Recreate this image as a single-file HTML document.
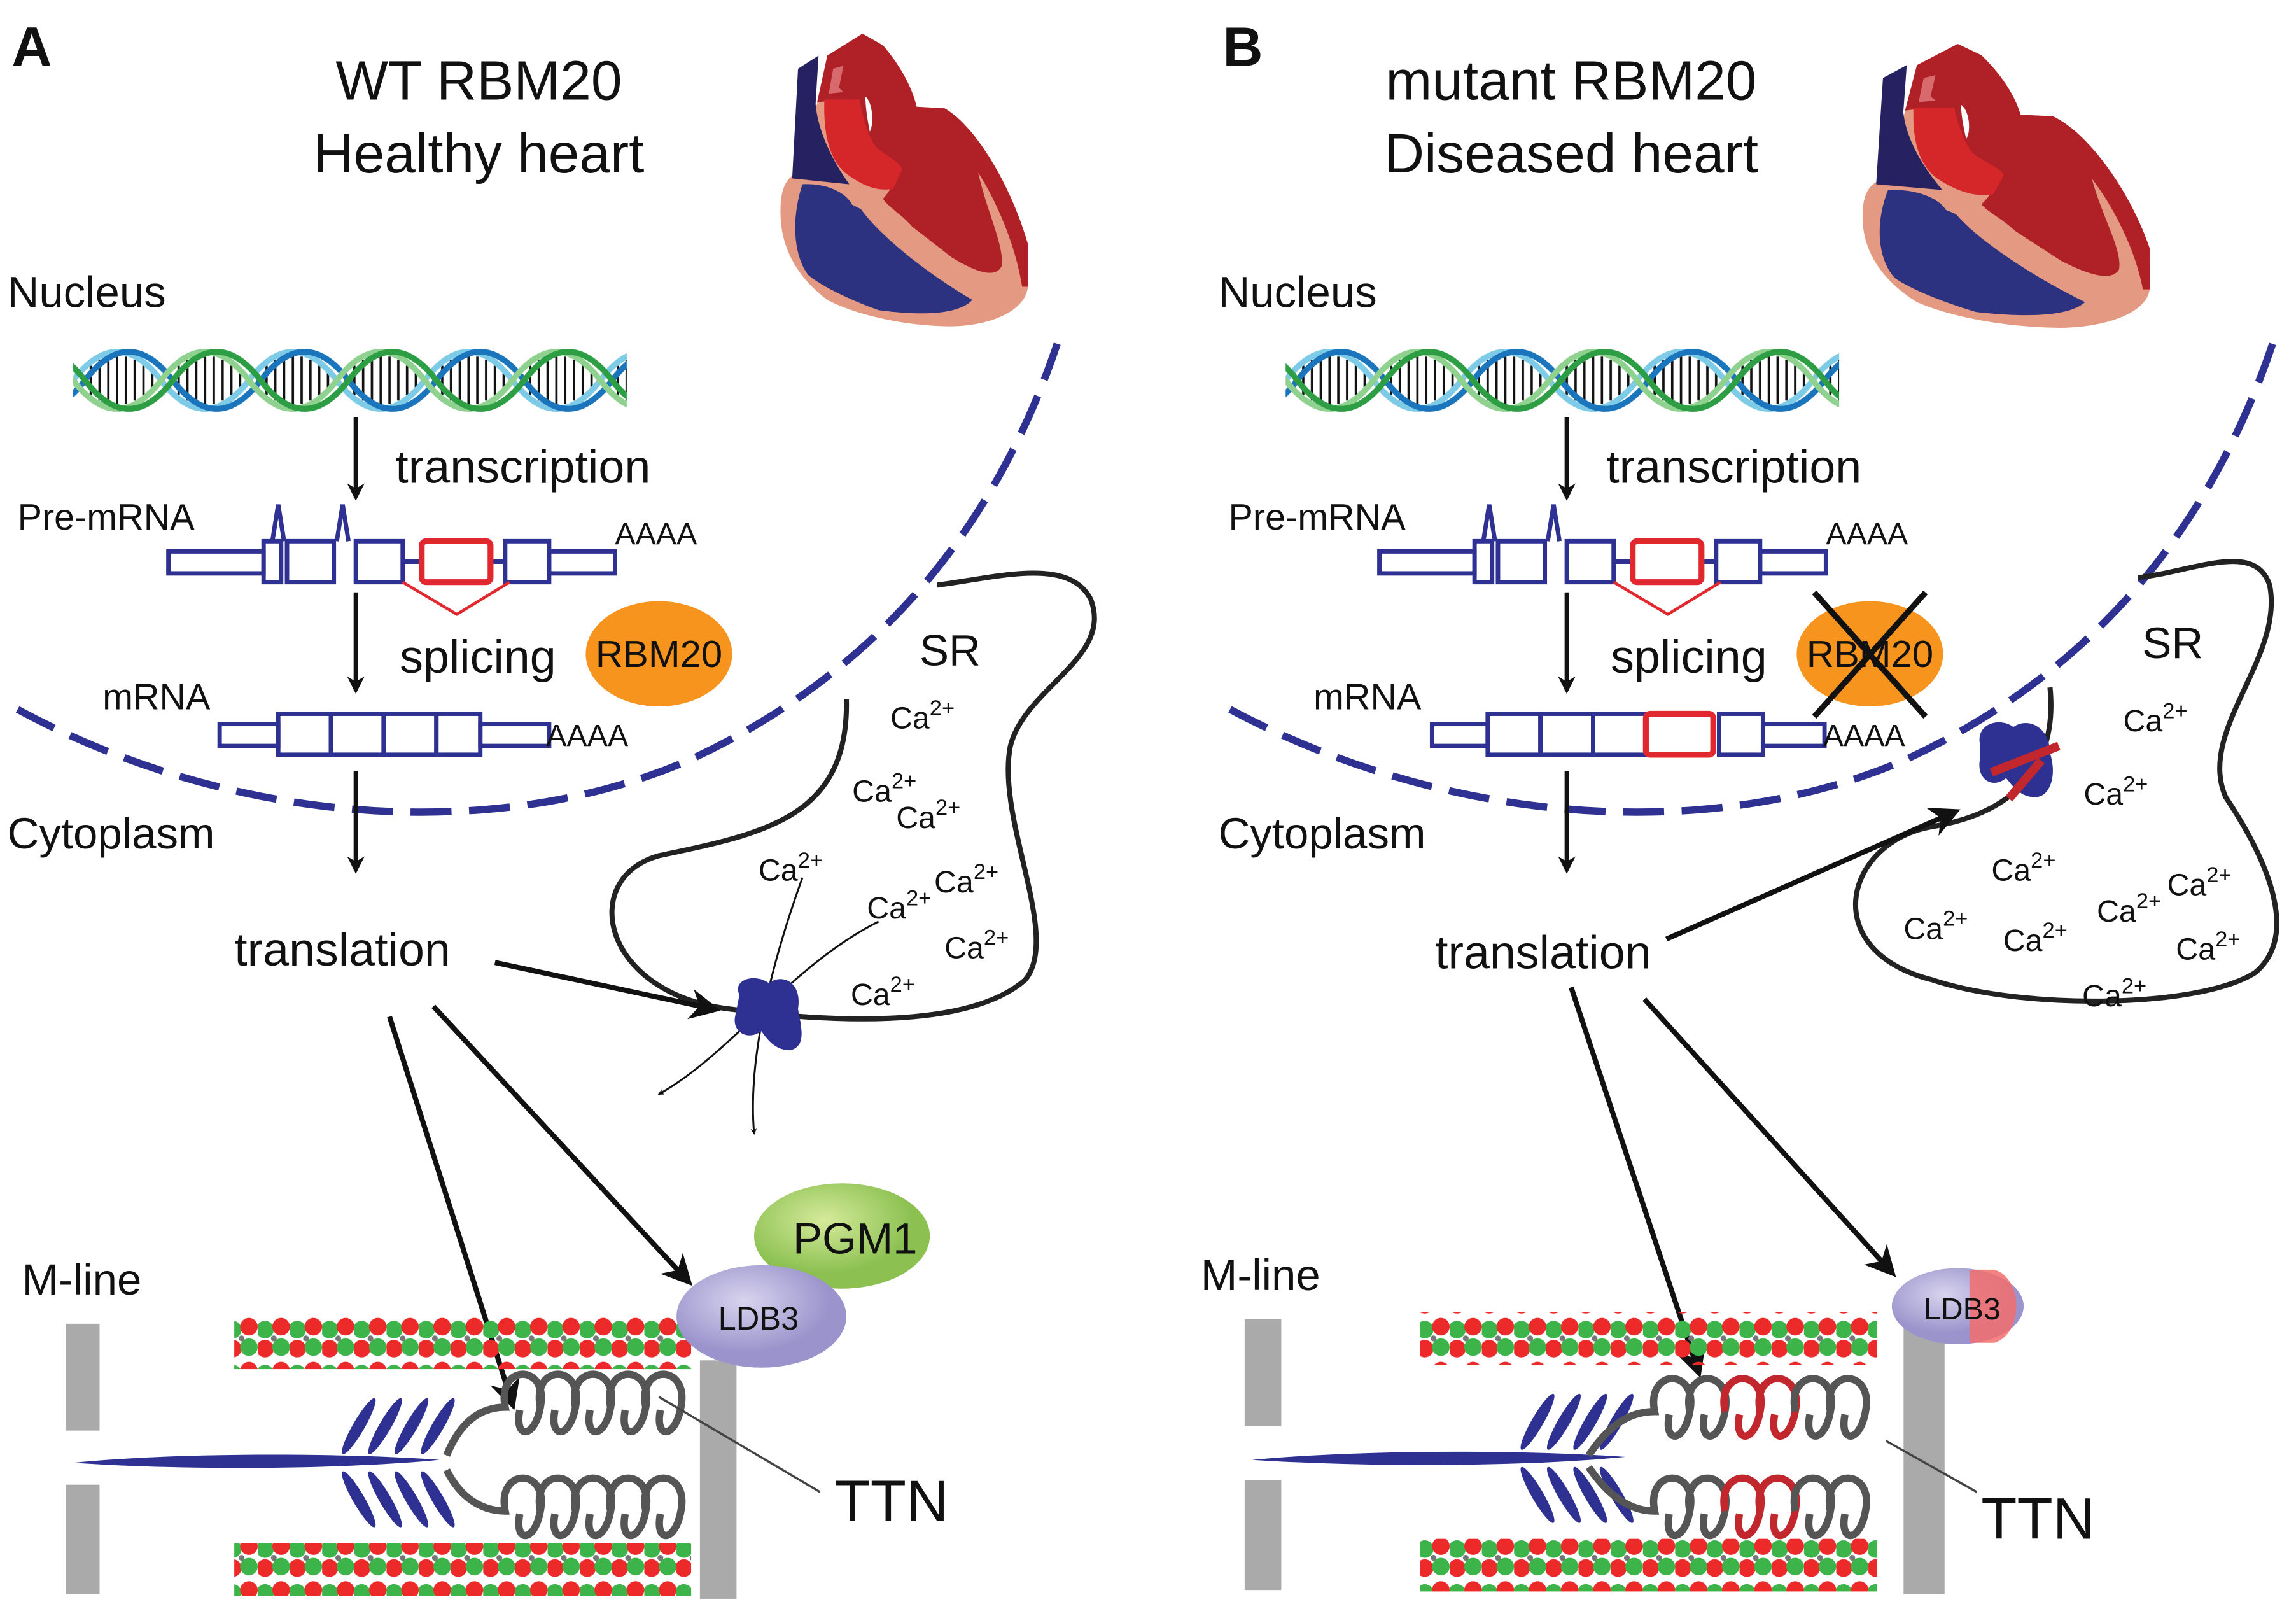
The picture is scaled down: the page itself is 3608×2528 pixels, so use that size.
<!DOCTYPE html>
<html><head><meta charset="utf-8"><style>
html,body{margin:0;padding:0;background:#fff}
svg{display:block}
text{font-family:"Liberation Sans",Arial,sans-serif;fill:#111}
</style></head><body>
<svg width="3608" height="2528" viewBox="0 0 1568 1100" preserveAspectRatio="none" xmlns="http://www.w3.org/2000/svg">
<defs>
<marker id="ah" viewBox="0 0 10 10" refX="8" refY="5" markerWidth="4" markerHeight="4" orient="auto"><path d="M0,0 L10,5 L0,10 L3,5z" fill="#111"/></marker>
<marker id="ahs" viewBox="0 0 10 10" refX="8" refY="5" markerWidth="6" markerHeight="6" orient="auto"><path d="M0,0 L10,5 L0,10 L3,5z" fill="#111"/></marker>
<marker id="ahb" viewBox="0 0 10 10" refX="8" refY="5" markerWidth="3.2" markerHeight="3.2" orient="auto"><path d="M0,0 L10,5 L0,10 L3,5z" fill="#111"/></marker>
<radialGradient id="pg" cx="40%" cy="35%"><stop offset="0" stop-color="#d5ea9a"/><stop offset="1" stop-color="#8cc152"/></radialGradient>
<radialGradient id="lg" cx="40%" cy="35%"><stop offset="0" stop-color="#d8d4ee"/><stop offset="1" stop-color="#9b94cc"/></radialGradient>
<pattern id="actin" patternUnits="userSpaceOnUse" x="0" y="0" width="22" height="30">
<circle cx="5" cy="9" r="6" fill="#3cb44a"/><circle cx="16" cy="7" r="6" fill="#ec2a2a"/>
<circle cx="5" cy="22" r="6" fill="#ec2a2a"/><circle cx="16" cy="21" r="6" fill="#3cb44a"/>
<circle cx="11" cy="15" r="2" fill="#777"/>
</pattern>
<pattern id="dnap" patternUnits="userSpaceOnUse" x="50" y="238" width="120" height="44">
<path d="M6,16.7 L6,27.3 M12,12 L12,32 M18,8.2 L18,35.8 M24,5.8 L24,38.2 M30,5 L30,39 M36,5.8 L36,38.2 M42,8.2 L42,35.8 M48,12 L48,32 M54,16.7 L54,27.3 M66,16.7 L66,27.3 M72,12 L72,32 M78,8.2 L78,35.8 M84,5.8 L84,38.2 M90,5 L90,39 M96,5.8 L96,38.2 M102,8.2 L102,35.8 M108,12 L108,32 M114,16.7 L114,27.3" stroke="#111" stroke-width="1.6"/>
<path d="M-120,22 C-100,-4 -80,-4 -60,22 S-20,48 0,22 S40,-4 60,22 S100,48 120,22 S160,-4 180,22" fill="none" stroke="#7ecbe8" stroke-width="4"/>
<path d="M-112,22 C-92,-4 -72,-4 -52,22 S-12,48 8,22 S48,-4 68,22 S108,48 128,22" fill="none" stroke="#1b75bc" stroke-width="4"/>
<path d="M-120,22 C-100,48 -80,48 -60,22 S-20,-4 0,22 S40,48 60,22 S100,-4 120,22 S160,48 180,22" fill="none" stroke="#8fd18f" stroke-width="4"/>
<path d="M-112,22 C-92,48 -72,48 -52,22 S-12,-4 8,22 S48,48 68,22 S108,-4 128,22" fill="none" stroke="#2e9e44" stroke-width="4"/>
</pattern>
<g id="heart">
<path d="M565,38 L589,23 L603,31 C615,45 623,60 626,73 L645,74 C665,85 690,125 702,167 L702,196 C700,215 670,224 645,223 C610,222 580,213 565,205 C545,190 533,170 533,145 C533,130 536,122 545,118 L558,71 Z" fill="#e49a82"/>
<path d="M565,38 L589,23 L603,31 C615,45 623,60 626,73 L645,74 C665,85 690,125 702,167 L702,196 L698,196 C694,170 682,140 668,118 C674,145 686,168 684,182 C680,190 668,187 650,176 L623,155 C615,146 606,141 603,136 C610,128 614,120 602,114 C592,108 587,92 585,80 C580,70 570,68 558,70 Z" fill="#b02027"/>
<path d="M563,68 L587,68 C590,85 595,98 600,102 C608,108 616,112 616,116 L610,129 C600,131 590,128 577,118 C568,110 562,95 563,68Z" fill="#d52629"/>
<path d="M591,66 C596,70 597,85 594,90 C592,80 591,72 591,66Z" fill="#fff"/>
<path d="M569,47 L576,45 L573,60 L576,63 L566,64Z" fill="#d86a6e"/>
<path d="M545,47 L559,38 L557,71 C558,85 565,105 580,126 L541,122 Z" fill="#262262"/>
<path d="M548,126 C565,125 578,132 582,140 L588,143 C600,160 630,185 664,205 C655,215 630,216 600,212 C580,205 560,195 552,188 C542,175 540,150 548,126Z" fill="#2c3280"/>
</g>
</defs>

<!-- Panel A -->
<text x="8" y="45" font-size="38" font-weight="bold">A</text>
<text x="327" y="68" font-size="38" text-anchor="middle">WT RBM20</text>
<text x="327" y="118" font-size="38" text-anchor="middle">Healthy heart</text>
<use href="#heart"/>
<text x="5" y="210" font-size="30">Nucleus</text>
<rect x="50" y="238" width="378" height="44" fill="url(#dnap)"/>
<line x1="243" y1="285" x2="243" y2="340" stroke="#111" stroke-width="3" marker-end="url(#ah)"/>
<text x="270" y="330" font-size="32">transcription</text>
<text x="12" y="362" font-size="25">Pre-mRNA</text>
<g fill="none" stroke="#2e3192" stroke-width="3">
<rect x="115" y="377" width="65" height="15"/><rect x="180" y="370" width="12" height="28"/><rect x="196" y="370" width="32" height="28"/><rect x="243" y="370" width="32" height="28"/>
<line x1="275" y1="384" x2="288" y2="384"/><line x1="335" y1="384" x2="345" y2="384"/><rect x="345" y="370" width="30" height="28"/><rect x="375" y="377" width="45" height="15"/>
<path d="M186,370 L190,345 L194,370 M230,370 L234,345 L238,370"/>
</g>
<rect x="288" y="370" width="47" height="28" fill="none" stroke="#e0282e" stroke-width="4" rx="3"/>
<path d="M275,398 L312,420 L348,398" fill="none" stroke="#e0282e" stroke-width="2"/>
<text x="420" y="372" font-size="21">AAAA</text>
<line x1="243" y1="405" x2="243" y2="472" stroke="#111" stroke-width="3" marker-end="url(#ah)"/>
<text x="273" y="460" font-size="32">splicing</text>
<ellipse cx="450" cy="447" rx="50" ry="36" fill="#f7941d"/>
<text x="450" y="456" font-size="26" text-anchor="middle">RBM20</text>
<text x="70" y="485" font-size="25">mRNA</text>
<g fill="none" stroke="#2e3192" stroke-width="3">
<rect x="150" y="495" width="40" height="15"/><rect x="190" y="488" width="36" height="28"/><rect x="226" y="488" width="36" height="28"/><rect x="262" y="488" width="36" height="28"/><rect x="298" y="488" width="30" height="28"/><rect x="328" y="495" width="47" height="15"/>
</g>
<text x="373" y="510" font-size="21">AAAA</text>
<path d="M12,485 C150,560 330,580 470,520 C600,460 680,360 722,235" fill="none" stroke="#2e3192" stroke-width="5" stroke-dasharray="28 12"/>
<text x="5" y="580" font-size="30">Cytoplasm</text>
<line x1="243" y1="527" x2="243" y2="595" stroke="#111" stroke-width="3" marker-end="url(#ah)"/>
<text x="160" y="660" font-size="32">translation</text>
<path d="M578,478 C580,560 520,570 450,585 C395,600 410,680 500,690 C560,698 660,705 700,670 C725,640 680,560 690,510 C700,470 760,450 745,410 C730,380 680,395 640,400" fill="none" stroke="#222" stroke-width="3.5"/>
<text x="628" y="455" font-size="30">SR</text>
<g font-size="21"><text x="608" y="498">Ca<tspan font-size="15" dy="-9">2+</tspan></text>
<text x="582" y="548">Ca<tspan font-size="15" dy="-9">2+</tspan></text><text x="612" y="566">Ca<tspan font-size="15" dy="-9">2+</tspan></text>
<text x="518" y="602">Ca<tspan font-size="15" dy="-9">2+</tspan></text>
<text x="592" y="628">Ca<tspan font-size="15" dy="-9">2+</tspan></text><text x="638" y="610">Ca<tspan font-size="15" dy="-9">2+</tspan></text>
<text x="645" y="655">Ca<tspan font-size="15" dy="-9">2+</tspan></text><text x="581" y="687">Ca<tspan font-size="15" dy="-9">2+</tspan></text></g>
<path d="M548,600 C530,650 510,720 515,775" fill="none" stroke="#111" stroke-width="1.3" marker-end="url(#ahb)"/>
<path d="M600,630 C540,660 500,720 450,748" fill="none" stroke="#111" stroke-width="1.3" marker-end="url(#ahb)"/>
<path d="M505,680 C500,670 515,665 525,672 C535,665 548,672 545,690 C548,705 550,715 540,718 C530,718 525,712 520,705 C510,712 500,705 502,695z" fill="#2e3192"/>
<line x1="338" y1="658" x2="488" y2="690" stroke="#111" stroke-width="3.5" marker-end="url(#ahs)"/>
<line x1="296" y1="688" x2="470" y2="876" stroke="#111" stroke-width="3.5" marker-end="url(#ahs)"/>
<line x1="266" y1="695" x2="350" y2="960" stroke="#111" stroke-width="3.5" marker-end="url(#ahs)"/>
<text x="15" y="885" font-size="30">M-line</text>
<rect x="45" y="905" width="23" height="73" fill="#aaa"/><rect x="45" y="1015" width="23" height="75" fill="#aaa"/>
<rect x="160" y="900" width="312" height="36" fill="url(#actin)"/>
<rect x="160" y="1055" width="312" height="36" fill="url(#actin)"/>
<rect x="478" y="930" width="25" height="163" fill="#aaa"/>
<path d="M50,1000 C120,993 230,993 300,998 C230,1005 120,1005 50,1000z" fill="#2e3192"/>
<g fill="#2e3192">
<ellipse cx="245" cy="975" rx="4" ry="22" transform="rotate(30 245 975)"/><ellipse cx="263" cy="975" rx="4" ry="22" transform="rotate(30 263 975)"/><ellipse cx="281" cy="975" rx="4" ry="22" transform="rotate(30 281 975)"/><ellipse cx="299" cy="975" rx="4" ry="22" transform="rotate(30 299 975)"/>
<ellipse cx="245" cy="1025" rx="4" ry="22" transform="rotate(-30 245 1025)"/><ellipse cx="263" cy="1025" rx="4" ry="22" transform="rotate(-30 263 1025)"/><ellipse cx="281" cy="1025" rx="4" ry="22" transform="rotate(-30 281 1025)"/><ellipse cx="299" cy="1025" rx="4" ry="22" transform="rotate(-30 299 1025)"/>
</g>
<g fill="none" stroke="#555" stroke-width="5">
<path d="M305,995 C315,970 330,962 345,962 c-6,-30 30,-30 24,0 c-4,22 -18,22 -14,2 m14,-2 c-6,-30 30,-30 24,0 c-4,22 -18,22 -14,2 m14,-2 c-6,-30 30,-30 24,0 c-4,22 -18,22 -14,2 m14,-2 c-6,-30 30,-30 24,0 c-4,22 -18,22 -14,2 m14,-2 c-6,-30 30,-30 24,0 c-4,22 -18,22 -14,2"/>
<path d="M305,1005 C315,1025 330,1033 345,1033 c-6,-30 30,-30 24,0 c-4,22 -18,22 -14,2 m14,-2 c-6,-30 30,-30 24,0 c-4,22 -18,22 -14,2 m14,-2 c-6,-30 30,-30 24,0 c-4,22 -18,22 -14,2 m14,-2 c-6,-30 30,-30 24,0 c-4,22 -18,22 -14,2 m14,-2 c-6,-30 30,-30 24,0 c-4,22 -18,22 -14,2"/>
</g>
<ellipse cx="575" cy="845" rx="60" ry="36" fill="url(#pg)"/>
<text x="584" y="857" font-size="30" text-anchor="middle">PGM1</text>
<ellipse cx="520" cy="900" rx="58" ry="35" fill="url(#lg)"/>
<text x="518" y="909" font-size="22" text-anchor="middle">LDB3</text>
<line x1="450" y1="955" x2="560" y2="1020" stroke="#444" stroke-width="1.5"/>
<text x="570" y="1040" font-size="40">TTN</text>

<!-- Panel B -->
<text x="835" y="45" font-size="38" font-weight="bold">B</text>
<text x="1073" y="68" font-size="38" text-anchor="middle">mutant RBM20</text>
<text x="1073" y="118" font-size="38" text-anchor="middle">Diseased heart</text>
<use href="#heart" transform="translate(1272,30) scale(1.16,0.97) translate(-533,-23)"/>
<text x="832" y="210" font-size="30">Nucleus</text>
<g transform="translate(828,0)"><rect x="50" y="238" width="378" height="44" fill="url(#dnap)"/></g>
<line x1="1070" y1="285" x2="1070" y2="340" stroke="#111" stroke-width="3" marker-end="url(#ah)"/>
<text x="1097" y="330" font-size="32">transcription</text>
<text x="839" y="362" font-size="25">Pre-mRNA</text>
<g transform="translate(827,0)">
<g fill="none" stroke="#2e3192" stroke-width="3">
<rect x="115" y="377" width="65" height="15"/><rect x="180" y="370" width="12" height="28"/><rect x="196" y="370" width="32" height="28"/><rect x="243" y="370" width="32" height="28"/>
<line x1="275" y1="384" x2="288" y2="384"/><line x1="335" y1="384" x2="345" y2="384"/><rect x="345" y="370" width="30" height="28"/><rect x="375" y="377" width="45" height="15"/>
<path d="M186,370 L190,345 L194,370 M230,370 L234,345 L238,370"/>
</g>
<rect x="288" y="370" width="47" height="28" fill="none" stroke="#e0282e" stroke-width="4" rx="3"/>
<path d="M275,398 L312,420 L348,398" fill="none" stroke="#e0282e" stroke-width="2"/>
<text x="420" y="372" font-size="21">AAAA</text>
<line x1="243" y1="405" x2="243" y2="472" stroke="#111" stroke-width="3" marker-end="url(#ah)"/>
<text x="273" y="460" font-size="32">splicing</text>
<ellipse cx="450" cy="447" rx="50" ry="36" fill="#f7941d"/>
<text x="450" y="456" font-size="26" text-anchor="middle">RBM20</text>
<path d="M412,405 L488,490 M488,405 L412,490" stroke="#111" stroke-width="4"/>
</g>
<text x="897" y="485" font-size="25">mRNA</text>
<g fill="none" stroke="#2e3192" stroke-width="3">
<rect x="978" y="495" width="38" height="15"/><rect x="1016" y="488" width="36" height="28"/><rect x="1052" y="488" width="36" height="28"/><rect x="1088" y="488" width="36" height="28"/><rect x="1174" y="488" width="30" height="28"/><rect x="1204" y="495" width="42" height="15"/>
</g>
<rect x="1124" y="488" width="46" height="28" fill="none" stroke="#e0282e" stroke-width="4" rx="3"/>
<text x="1245" y="510" font-size="21">AAAA</text>
<path d="M840,485 C980,560 1160,580 1300,520 C1430,460 1510,360 1552,235" fill="none" stroke="#2e3192" stroke-width="5" stroke-dasharray="28 12"/>
<text x="832" y="580" font-size="30">Cytoplasm</text>
<line x1="1070" y1="527" x2="1070" y2="595" stroke="#111" stroke-width="3" marker-end="url(#ah)"/>
<text x="980" y="662" font-size="32">translation</text>
<path d="M1400,470 C1405,520 1380,555 1320,565 C1260,575 1240,650 1320,670 C1380,690 1500,690 1540,665 C1570,640 1550,590 1520,545 C1500,500 1560,450 1550,400 C1540,370 1500,390 1460,395" fill="none" stroke="#222" stroke-width="3.5"/>
<text x="1463" y="450" font-size="30">SR</text>
<g font-size="21"><text x="1450" y="500">Ca<tspan font-size="15" dy="-9">2+</tspan></text>
<text x="1423" y="550">Ca<tspan font-size="15" dy="-9">2+</tspan></text>
<text x="1360" y="602">Ca<tspan font-size="15" dy="-9">2+</tspan></text>
<text x="1300" y="642">Ca<tspan font-size="15" dy="-9">2+</tspan></text><text x="1368" y="650">Ca<tspan font-size="15" dy="-9">2+</tspan></text>
<text x="1432" y="630">Ca<tspan font-size="15" dy="-9">2+</tspan></text><text x="1480" y="612">Ca<tspan font-size="15" dy="-9">2+</tspan></text>
<text x="1486" y="656">Ca<tspan font-size="15" dy="-9">2+</tspan></text><text x="1422" y="688">Ca<tspan font-size="15" dy="-9">2+</tspan></text></g>
<path d="M1352,508 C1350,495 1365,490 1375,497 C1385,490 1400,497 1400,515 C1405,530 1400,545 1390,545 C1380,545 1375,538 1370,532 C1360,540 1350,532 1352,520z" fill="#2e3192"/>
<path d="M1360,528 L1406,510 M1372,546 L1394,520" stroke="#c1272d" stroke-width="6"/>
<line x1="1138" y1="642" x2="1335" y2="555" stroke="#111" stroke-width="3.5" marker-end="url(#ahs)"/>
<line x1="1123" y1="683" x2="1292" y2="870" stroke="#111" stroke-width="3.5" marker-end="url(#ahs)"/>
<line x1="1073" y1="675" x2="1160" y2="938" stroke="#111" stroke-width="3.5" marker-end="url(#ahs)"/>
<text x="820" y="882" font-size="30">M-line</text>
<rect x="850" y="902" width="25" height="73" fill="#aaa"/><rect x="850" y="1012" width="25" height="75" fill="#aaa"/>
<rect x="970" y="897" width="312" height="36" fill="url(#actin)"/>
<rect x="970" y="1052" width="312" height="36" fill="url(#actin)"/>
<rect x="1300" y="905" width="28" height="185" fill="#aaa"/>
<path d="M855,998 C930,991 1040,991 1110,996 C1040,1003 930,1003 855,998z" fill="#2e3192"/>
<g fill="#2e3192">
<ellipse cx="1050" cy="972" rx="4" ry="22" transform="rotate(30 1050 972)"/><ellipse cx="1068" cy="972" rx="4" ry="22" transform="rotate(30 1068 972)"/><ellipse cx="1086" cy="972" rx="4" ry="22" transform="rotate(30 1086 972)"/><ellipse cx="1104" cy="972" rx="4" ry="22" transform="rotate(30 1104 972)"/>
<ellipse cx="1050" cy="1022" rx="4" ry="22" transform="rotate(-30 1050 1022)"/><ellipse cx="1068" cy="1022" rx="4" ry="22" transform="rotate(-30 1068 1022)"/><ellipse cx="1086" cy="1022" rx="4" ry="22" transform="rotate(-30 1086 1022)"/><ellipse cx="1104" cy="1022" rx="4" ry="22" transform="rotate(-30 1104 1022)"/>
</g>
<g fill="none" stroke-width="5">
<path stroke="#555" d="M1085,995 C1100,972 1115,965 1130,965 c-6,-30 30,-30 24,0 c-4,22 -18,22 -14,2 m14,-2 c-6,-30 30,-30 24,0 c-4,22 -18,22 -14,2"/>
<path stroke="#c1272d" d="M1178,965 c-6,-30 30,-30 24,0 c-4,22 -18,22 -14,2 m14,-2 c-6,-30 30,-30 24,0 c-4,22 -18,22 -14,2"/>
<path stroke="#555" d="M1226,965 c-6,-30 30,-30 24,0 c-4,22 -18,22 -14,2 m14,-2 c-6,-30 30,-30 24,0 c-4,22 -18,22 -14,2"/>
<path stroke="#555" d="M1085,1003 C1100,1025 1115,1033 1130,1033 c-6,-30 30,-30 24,0 c-4,22 -18,22 -14,2 m14,-2 c-6,-30 30,-30 24,0 c-4,22 -18,22 -14,2"/>
<path stroke="#c1272d" d="M1178,1033 c-6,-30 30,-30 24,0 c-4,22 -18,22 -14,2 m14,-2 c-6,-30 30,-30 24,0 c-4,22 -18,22 -14,2"/>
<path stroke="#555" d="M1226,1033 c-6,-30 30,-30 24,0 c-4,22 -18,22 -14,2 m14,-2 c-6,-30 30,-30 24,0 c-4,22 -18,22 -14,2"/>
</g>
<ellipse cx="1337" cy="893" rx="45" ry="26" fill="url(#lg)"/>
<path d="M1345,868 L1362,868 C1382,874 1382,912 1362,918 L1345,918z" fill="#f26d6d" opacity="0.85"/>
<text x="1340" y="902" font-size="21" text-anchor="middle">LDB3</text>
<line x1="1288" y1="985" x2="1350" y2="1020" stroke="#444" stroke-width="1.5"/>
<text x="1353" y="1052" font-size="40">TTN</text>
</svg>
</body></html>
